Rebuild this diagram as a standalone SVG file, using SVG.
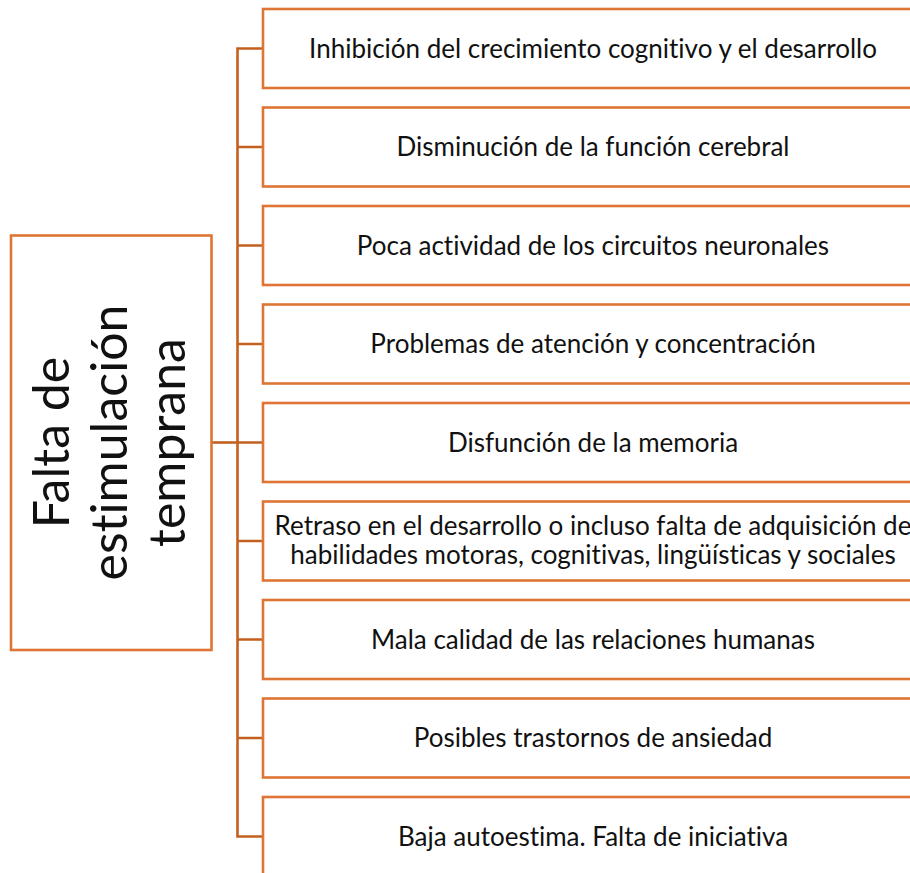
<svg xmlns="http://www.w3.org/2000/svg" width="910" height="873" viewBox="0 0 910 873">
<style>
.box{fill:#ffffff;stroke:#DE7535;stroke-width:2.6}
.con{fill:none;stroke:#C2601F;stroke-width:2.6}
.t{font-family:Lato,"Open Sans","Liberation Sans",sans-serif;font-size:26px;fill:#111111;text-anchor:middle;font-variant-ligatures:none}
.big{font-family:Lato,"Open Sans","Liberation Sans",sans-serif;font-size:50px;fill:#111111;text-anchor:middle;font-variant-ligatures:none}
</style>
<rect width="910" height="873" fill="#ffffff"/>
<g id="connectors">
<path class="con" d="M263 48.5H237.5V836.5H263"/>
<path class="con" d="M237.5 147H263M237.5 245.5H263M237.5 344H263M237.5 442.5H263M237.5 541H263M237.5 639.5H263M237.5 738H263"/>
<path class="con" d="M211.5 442.5H237.5"/>
</g>
<g id="root">
<rect class="box" x="11" y="235.5" width="200.5" height="414.5"/>
<g transform="translate(111,442.5) rotate(-90)">
<text class="big" x="0" y="-42">Falta de</text>
<text class="big" x="0" y="16">estimulación</text>
<text class="big" x="0" y="74">temprana</text>
</g>
</g>
<g id="n1"><rect class="box" x="263" y="9" width="670" height="79"/><text class="t" x="593" y="57.5">Inhibición del crecimiento cognitivo y el desarrollo</text></g>
<g id="n2"><rect class="box" x="263" y="107.5" width="670" height="79"/><text class="t" x="593" y="156">Disminución de la función cerebral</text></g>
<g id="n3"><rect class="box" x="263" y="206" width="670" height="79"/><text class="t" x="593" y="254.5">Poca actividad de los circuitos neuronales</text></g>
<g id="n4"><rect class="box" x="263" y="304.5" width="670" height="79"/><text class="t" x="593" y="353">Problemas de atención y concentración</text></g>
<g id="n5"><rect class="box" x="263" y="403" width="670" height="79"/><text class="t" x="593" y="451.5">Disfunción de la memoria</text></g>
<g id="n6"><rect class="box" x="263" y="501.5" width="670" height="79"/><text class="t" x="593" y="534.5">Retraso en el desarrollo o incluso falta de adquisición de</text><text class="t" x="593" y="563.5">habilidades motoras, cognitivas, lingüísticas y sociales</text></g>
<g id="n7"><rect class="box" x="263" y="600" width="670" height="79"/><text class="t" x="593" y="648.5">Mala calidad de las relaciones humanas</text></g>
<g id="n8"><rect class="box" x="263" y="698.5" width="670" height="79"/><text class="t" x="593" y="747">Posibles trastornos de ansiedad</text></g>
<g id="n9"><rect class="box" x="263" y="797" width="670" height="79"/><text class="t" x="593" y="845.5">Baja autoestima. Falta de iniciativa</text></g>
</svg>
